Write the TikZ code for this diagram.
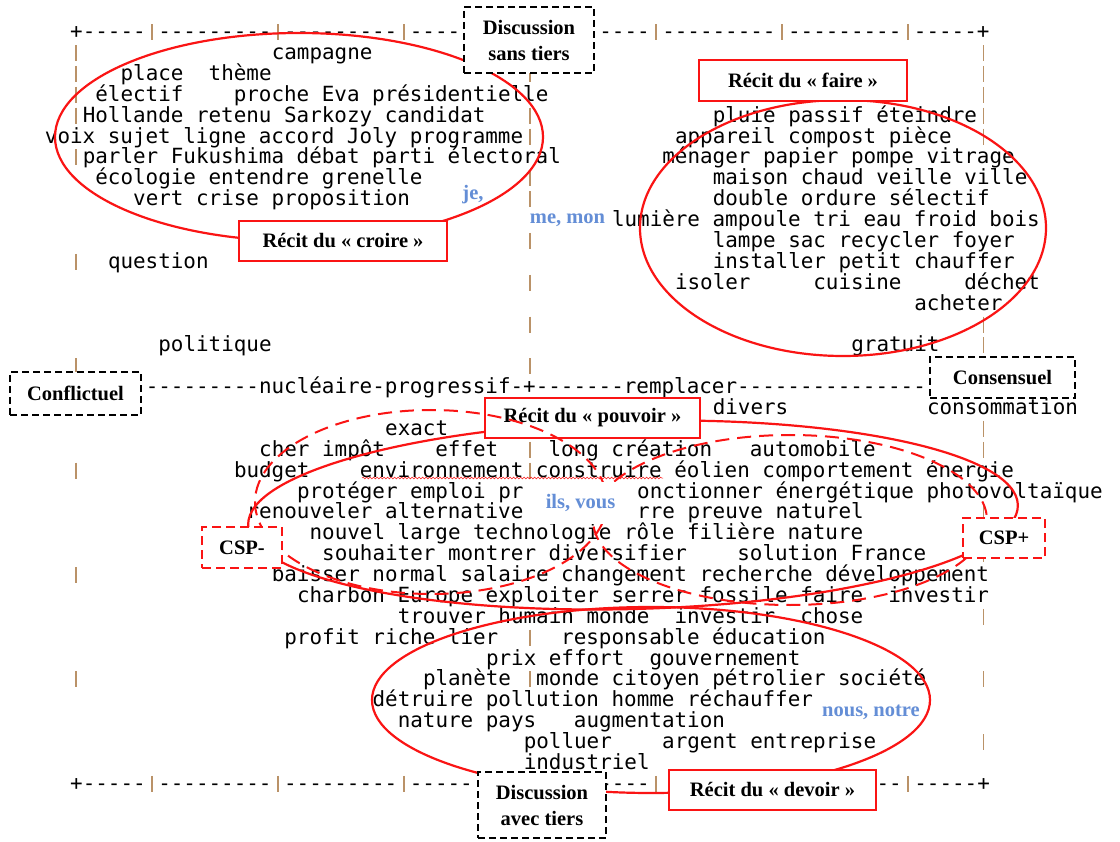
\documentclass[tikz,border=0pt]{standalone}
\usepackage{fontspec}
\setmainfont{Liberation Serif}
\setmonofont{DejaVu Sans Mono}
\usepackage{tikz}
\usetikzlibrary{positioning,decorations.pathmorphing}

\definecolor{axistan}{RGB}{186,146,104}
\definecolor{rouge}{RGB}{250,20,20}
\definecolor{pronblue}{RGB}{100,142,214}

\tikzset{
    word/.style={font=\ttfamily\fontsize{20.9}{20.88}\selectfont, anchor=base west, inner sep=0pt},
    axisbar/.style={axistan, line width=1.8pt},
    zonebox/.style={draw=black, dash pattern=on 7pt off 4pt, line width=1.8pt, fill=white, align=center, inner sep=0pt, font=\bfseries\fontsize{20.5}{26}\selectfont},
    recitbox/.style={draw=rouge, line width=2.2pt, fill=white, inner sep=0pt, font=\bfseries\fontsize{20.5}{24}\selectfont},
    cspbox/.style={draw=rouge, dash pattern=on 9pt off 5pt, line width=1.8pt, fill=white, inner sep=0pt, font=\bfseries\fontsize{20.5}{24}\selectfont},
    pronoun/.style={text=pronblue, inner sep=0pt, font=\bfseries\fontsize{20.5}{24}\selectfont},
    ellipseline/.style={rouge, line width=2.2pt},
    dashellipse/.style={rouge, line width=2pt, dash pattern=on 14pt off 8pt}
}

\begin{document}
\begin{tikzpicture}[x=1pt, y=-1pt]
    \useasboundingbox (0,0) rectangle (1120,842);
    \fill [white] (0,0) rectangle (1120,842);

    % Axis bars
    \foreach \c in {6,16,26,36,46,56,66}
        \foreach \r in {0,36}
            \draw [axisbar] ({76.3+12.6*\c},{24.2+20.88*\r}) -- ++(0,16);
    \foreach \r in {1,...,4,6,...,35}
        \draw [axisbar] (76.3,{24.2+20.88*\r}) -- ++(0,16);
    \foreach \r in {1,2,4,5,7,8,10,...,16,18,20,21,29,31}
        \draw [axisbar] (529.9,{24.2+20.88*\r}) -- ++(0,16);
    \foreach \r in {1,...,5,14,15,16,19,20,23,24,25,28,...,35}
        \draw [axisbar] (983.5,{24.2+20.88*\r}) -- ++(0,16);

    % Frame lines
    \node [word] (topleft) at (70,38.7) {+-----~---------~---------~----};
    \node [word] (topright) at (599.2,38.7) {----~---------~---------~-----+};
    \node [word] (bottomleft) at (70,790.4) {+-----~---------~---------~-----};
    \node [word] (bottommid) at (599.2,790.4) {----};
    \node [word] (bottomright) at (876.4,790.4) {--~-----+};
    \node [word] (midline) at (133,393.7) {----------nucléaire-progressif-+-------remplacer---------------};

    % Words
    \foreach \c/\r/\t [count=\i] in {16/1/campagne, 4/2/place~~thème,
        2/3/électif~~~~proche Eva présidentielle,
        1/4/Hollande retenu Sarkozy candidat, 51/4/pluie passif éteindre,
        -2/5/voix sujet ligne accord Joly programme, 48/5/appareil compost pièce,
        1/6/parler Fukushima débat parti électoral, 47/6/ménager papier pompe vitrage,
        2/7/écologie entendre grenelle, 51/7/maison chaud veille ville,
        5/8/vert crise proposition, 51/8/double ordure sélectif,
        43/9/lumière ampoule tri eau froid bois, 51/10/lampe sac recycler foyer,
        3/11/question, 51/11/installer petit chauffer,
        48/12/isoler~~~~~cuisine~~~~~déchet, 67/13/acheter,
        7/15/politique, 62/15/gratuit, 51/18/divers, 68/18/consommation,
        25/19/exact,
        15/20/cher impôt~~~~effet~~~~long création~~~automobile,
        13/21/budget~~~~environnement construire éolien comportement énergie,
        18/22/protéger emploi pr, 45/22/onctionner énergétique photovoltaïque,
        14/23/renouveler alternative, 45/23/rre preuve naturel,
        19/24/nouvel large technologie rôle filière nature,
        20/25/souhaiter montrer diversifier~~~~solution France,
        16/26/baisser normal salaire changement recherche développement,
        18/27/charbon Europe exploiter serrer fossile faire~~investir,
        26/28/trouver humain monde~~investir~~chose,
        17/29/profit riche lier~~~~~responsable éducation,
        33/30/prix effort~~gouvernement,
        28/31/planète~~monde citoyen pétrolier société,
        24/32/détruire pollution homme réchauffer,
        26/33/nature pays~~~augmentation,
        36/34/polluer~~~~argent entreprise,
        36/35/industriel}
        \node [word] (w\i) at ({70+12.6*\c},{38.7+20.88*\r}) {\t};

    % Solid ellipses
    \draw [ellipseline] (299,137) ellipse [x radius=244, y radius=104];
    \draw [ellipseline] (843,228) ellipse [x radius=203, y radius=128];
    \draw [ellipseline, rotate around={1.5:(633,515)}] (633,515) ellipse [x radius=385, y radius=94];
    \draw [ellipseline] (651,700) ellipse [x radius=279, y radius=93];
    \draw [rouge, line width=0.5pt, decorate, decoration={snake, amplitude=0.9pt, segment length=3.5pt}] (362,478) -- (663,478);

    % Boxes
    \node [zonebox, minimum width=130, minimum height=66] (sans) at (529,40) {Discussion\\sans tiers};
    \node [zonebox, minimum width=128, minimum height=66] (avec) at (542,805) {Discussion\\avec tiers};
    \node [zonebox, minimum width=131, minimum height=43] (conflit) at (75.5,393.5) {Conflictuel};
    \node [zonebox, minimum width=145, minimum height=41] (consens) at (1002.5,377.5) {Consensuel};
    \node [recitbox, minimum width=208, minimum height=40] (croire) at (343,241) {Récit du «~croire~»};
    \node [recitbox, minimum width=208, minimum height=41] (faire) at (803,80.5) {Récit du «~faire~»};
    \node [recitbox, minimum width=215, minimum height=40] (pouvoir) at (592.5,418) {Récit du «~pouvoir~»};
    \node [recitbox, minimum width=207, minimum height=40] (devoir) at (772.5,790) {Récit du «~devoir~»};

    % Dashed ellipses
    \draw [dashellipse] (431,502) ellipse [x radius=176, y radius=92];
    \draw [dashellipse] (790,520) ellipse [x radius=197, y radius=85];
    \node [cspbox, minimum width=80, minimum height=41] (cspmoins) at (242,547.5) {CSP-};
    \node [cspbox, minimum width=82, minimum height=40] (cspplus) at (1004,538) {CSP+};

    % Pronouns
    \node [pronoun] (je) at (473,195) {je,};
    \node [pronoun, fill=white, minimum width=88, minimum height=22] (memon) at (567.5,220.5) {me, mon};
    \node [pronoun, fill=white, minimum width=112, minimum height=42] (ilsvous) at (580.5,503) {ils, vous};
    \node [pronoun] (nousnotre) at (871,712) {nous, notre};
\end{tikzpicture}
\end{document}
